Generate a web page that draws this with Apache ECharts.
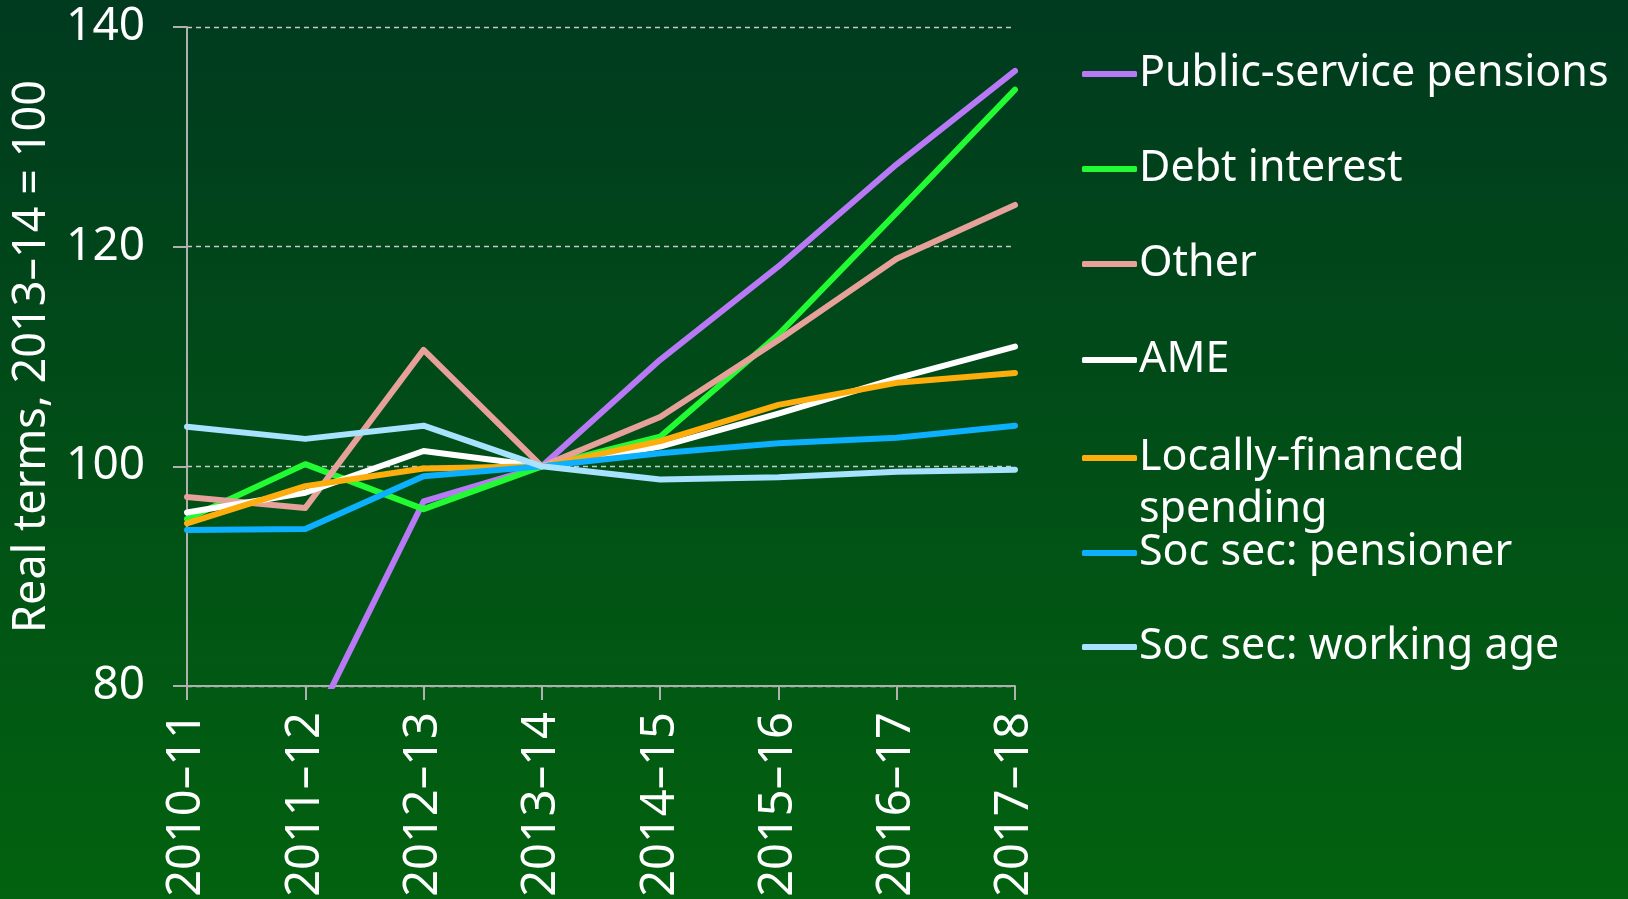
<!DOCTYPE html>
<html>
<head>
<meta charset="utf-8">
<script src="https://cdn.jsdelivr.net/npm/echarts@6/dist/echarts.min.js"></script>
<style>
  html, body { margin: 0; padding: 0; }
  #chart { width: 1628px; height: 899px; }
</style>
</head>
<body>
<div id="chart"></div>
<script>
// categories (financial years)
const years = ['2010–11', '2011–12', '2012–13', '2013–14', '2014–15', '2015–16', '2016–17', '2017–18'];

// real terms, 2013-14 = 100
const publicServicePensions = [73, 75, 96.8, 100, 109.7, 118.2, 127.5, 136.0];
const debtInterest = [95.2, 100.2, 96.1, 100, 102.7, 112.0, 123.1, 134.3];
const other = [97.2, 96.2, 110.6, 100, 104.5, 111.5, 118.9, 123.8];
const ame = [95.8, 97.6, 101.4, 100, 101.8, 104.8, 108.0, 110.9];
const locallyFinanced = [94.8, 98.2, 99.8, 100, 102.3, 105.6, 107.6, 108.5];
const socSecPensioner = [94.2, 94.3, 99.1, 100, 101.2, 102.1, 102.6, 103.7];
const socSecWorkingAge = [103.6, 102.5, 103.7, 100, 98.8, 99.0, 99.5, 99.7];

const seriesNames = ['Public-service pensions', 'Debt interest', 'Other', 'AME',
  'Locally-financed spending', 'Soc sec: pensioner', 'Soc sec: working age'];
const seriesData = [publicServicePensions, debtInterest, other, ame,
  locallyFinanced, socSecPensioner, socSecWorkingAge];
const colors = ['#b978f6', '#22fb33', '#e6a19b', '#ffffff', '#fdad0c', '#0cb0ff', '#a8e2ff'];

// y centre of each legend entry
const legendCentres = [69, 164, 259, 355, 453, 548, 642];
const LH = 52; // legend text line height

var chart = echarts.init(document.getElementById('chart'));

const legends = seriesNames.map((name, i) => {
  const twoLine = name === 'Locally-financed spending';
  return {
    orient: 'vertical',
    left: 1077,
    top: twoLine ? legendCentres[i] - 1.5 * LH : legendCentres[i] - LH / 2,
    icon: 'roundRect',
    itemWidth: 55,
    itemHeight: 6,
    itemGap: 0,
    data: [name],
    // empty first line keeps "Locally-financed" level with its icon
    formatter: n => (n === 'Locally-financed spending' ? '\nLocally-financed\nspending' : n),
    textStyle: {
      color: '#ffffff',
      fontFamily: 'Noto Sans',
      fontSize: 43,
      lineHeight: LH,
      padding: [0, 0, 0, -3]
    }
  };
});

const option = {
  backgroundColor: new echarts.graphic.LinearGradient(0, 0, 0, 1, [
    { offset: 0, color: '#003a1f' },
    { offset: 1, color: '#02620f' }
  ]),
  animation: false,
  legend: legends,
  grid: { left: 187, right: 613, top: 27, bottom: 213, containLabel: false, outerBoundsMode: 'none' },
  xAxis: {
    type: 'category',
    data: years,
    boundaryGap: false,
    axisLine: { lineStyle: { color: '#b0b0b0', width: 2 } },
    axisTick: { length: 14, lineStyle: { color: '#b0b0b0', width: 2 } },
    axisLabel: {
      rotate: 90,
      margin: 26,
      color: '#ffffff',
      fontFamily: 'Noto Sans',
      fontSize: 47
    },
    splitLine: { show: false }
  },
  yAxis: {
    type: 'value',
    min: 80,
    max: 140,
    interval: 20,
    name: 'Real terms, 2013–14 = 100',
    nameLocation: 'middle',
    nameGap: 132,
    nameTextStyle: { color: '#ffffff', fontFamily: 'Noto Sans', fontSize: 45 },
    axisLine: { show: true, lineStyle: { color: '#b0b0b0', width: 2 } },
    axisTick: { show: true, length: 14, lineStyle: { color: '#b0b0b0', width: 2 } },
    axisLabel: {
      margin: 42,
      color: '#ffffff',
      fontFamily: 'Noto Sans',
      fontSize: 46
    },
    splitLine: { lineStyle: { color: '#c8c8c8', type: [5, 4], width: 1.3 } }
  },
  series: seriesNames.map((name, i) => ({
    name: name,
    type: 'line',
    data: seriesData[i],
    symbol: 'none',
    clip: true,
    color: colors[i],
    lineStyle: { color: colors[i], width: 6, cap: 'round', join: 'round' }
  }))
};

chart.setOption(option);
</script>
</body>
</html>
